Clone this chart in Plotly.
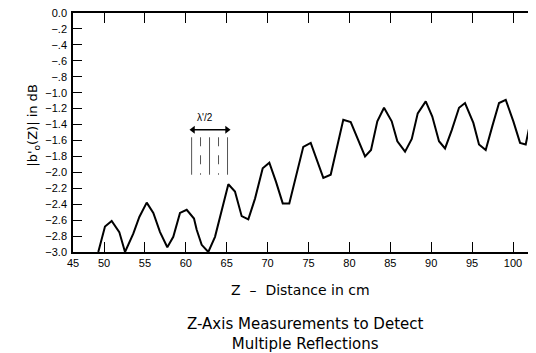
import plotly.graph_objects as go

# Measured curve |b'o(Z)| in dB vs Z (cm)
z_cm = [49.30, 50.12, 50.94, 51.87, 52.57, 53.58, 54.32, 55.22, 56.03, 56.85,
        57.74, 58.47, 59.29, 60.11, 61.00, 61.33, 61.94, 62.75, 63.57, 64.39,
        65.20, 66.01, 66.83, 67.64, 68.46, 69.40, 70.21, 71.03, 71.85, 72.65,
        74.36, 75.27, 76.81, 77.71, 79.25, 80.16, 81.91, 82.64, 83.41, 84.23,
        85.17, 85.86, 86.80, 87.62, 88.35, 89.33, 90.13, 90.95, 91.69, 92.51,
        93.40, 94.13, 95.15, 95.84, 96.66, 97.47, 98.29, 99.11, 100.04, 100.86,
        101.55, 102.48, 102.93]
b_db = [-3.00, -2.68, -2.61, -2.75, -3.00, -2.77, -2.56, -2.38, -2.51, -2.75,
        -2.94, -2.81, -2.51, -2.47, -2.58, -2.72, -2.91, -3.00, -2.81, -2.49,
        -2.15, -2.24, -2.55, -2.59, -2.33, -1.95, -1.88, -2.12, -2.39, -2.39,
        -1.68, -1.63, -2.07, -2.03, -1.34, -1.37, -1.80, -1.72, -1.36, -1.19,
        -1.36, -1.61, -1.74, -1.58, -1.26, -1.11, -1.30, -1.61, -1.70, -1.47,
        -1.19, -1.13, -1.38, -1.65, -1.72, -1.42, -1.13, -1.09, -1.36, -1.63,
        -1.65, -1.19, -1.14]

x_tick_vals = [46.21, 50, 55, 60, 65, 70, 75, 80, 85, 90, 95, 100]
x_tick_text = ["45", "50", "55", "60", "65", "70", "75", "80", "85", "90", "95", "100"]
y_tick_vals = [0.0, -0.2, -0.4, -0.6, -0.8, -1.0, -1.2, -1.4, -1.6, -1.8, -2.0,
               -2.2, -2.4, -2.6, -2.8, -3.0]
y_tick_text = ["0.0", "\u2212.2", "\u2212.4", "\u2212.6", "\u2212.8", "\u22121.0",
               "\u22121.2", "\u22121.4", "\u22121.6", "\u22121.8", "\u22122.0",
               "\u22122.2", "\u22122.4", "\u22122.6", "\u22122.8", "\u22123.0"]

# lambda'/2 marker: vertical reference lines and arrow span
half_wave_marks = [60.71, 61.8, 62.9, 64.0, 65.1]
half_wave_dash = ["solid", "dash", "solid", "dash", "solid"]
half_wave_y = [-1.56, -2.03]
arrow_span = [60.88, 65.04]
arrow_y = [-1.465, -1.465]

FONT = "Liberation Sans, Arial, Helvetica, sans-serif"
WIDE = "DejaVu Sans, Verdana, sans-serif"

fig = go.Figure()
fig.add_trace(go.Scatter(x=z_cm, y=b_db, mode="lines",
                         line=dict(color="black", width=2), showlegend=False,
                         cliponaxis=True, hoverinfo="skip"))

# double-headed arrow for lambda'/2
fig.add_trace(go.Scatter(x=arrow_span, y=arrow_y, mode="lines+markers",
                         line=dict(color="black", width=1.5),
                         marker=dict(symbol=["triangle-left", "triangle-right"],
                                     size=7, color="black"),
                         showlegend=False, hoverinfo="skip"))

for xm, d in zip(half_wave_marks, half_wave_dash):
    fig.add_shape(type="line", x0=xm, x1=xm, y0=half_wave_y[0], y1=half_wave_y[1],
                  xref="x", yref="y", line=dict(color="#555555", width=1, dash=d))

fig.add_annotation(x=62.35, y=-1.31, xref="x", yref="y", text="\u03bb'/2",
                   showarrow=False, font=dict(size=10, family=FONT, color="black"))

fig.add_annotation(x=-0.108, y=0.53, xref="paper", yref="paper",
                   text="|b'<sub>o</sub>(Z)| in dB", textangle=-90, showarrow=False,
                   font=dict(size=13, family=WIDE, color="black"))
fig.add_annotation(x=0.49, y=-0.159, xref="paper", yref="paper",
                   text="Z  \u2013  Distance in cm", showarrow=False,
                   yanchor="middle", font=dict(size=14, family=WIDE, color="black"))
fig.add_annotation(x=0.501, y=-0.343, xref="paper", yref="paper",
                   text="Z-Axis Measurements to Detect<br>Multiple Reflections",
                   showarrow=False, yanchor="middle", align="center",
                   font=dict(size=15, family=WIDE, color="black"))

# the page adds an 8px body margin, so the figure margins are offset by 8px
fig.update_layout(
    width=536, height=353,
    margin=dict(l=65, r=7, t=5, b=109, autoexpand=False),
    paper_bgcolor="white", plot_bgcolor="white",
    font=dict(family=FONT, color="black", size=11),
    xaxis=dict(range=[46.21, 102.93], tickvals=x_tick_vals, ticktext=x_tick_text,
               ticks="inside", ticklen=10, tickwidth=1, tickcolor="black",
               showline=True, linecolor="black", linewidth=1.5, mirror="ticks",
               showgrid=False, zeroline=False, tickfont=dict(size=11),
               ticklabeloverflow="allow"),
    yaxis=dict(range=[-3.0, 0.0], tickvals=y_tick_vals, ticktext=y_tick_text,
               ticks="inside", ticklen=9, tickwidth=1, tickcolor="black",
               showline=True, linecolor="black", linewidth=1.5, mirror="ticks",
               showgrid=False, zeroline=False, tickfont=dict(size=11),
               ticklabeloverflow="allow", ticklabelstandoff=2),
)

fig.write_html("out.html")
